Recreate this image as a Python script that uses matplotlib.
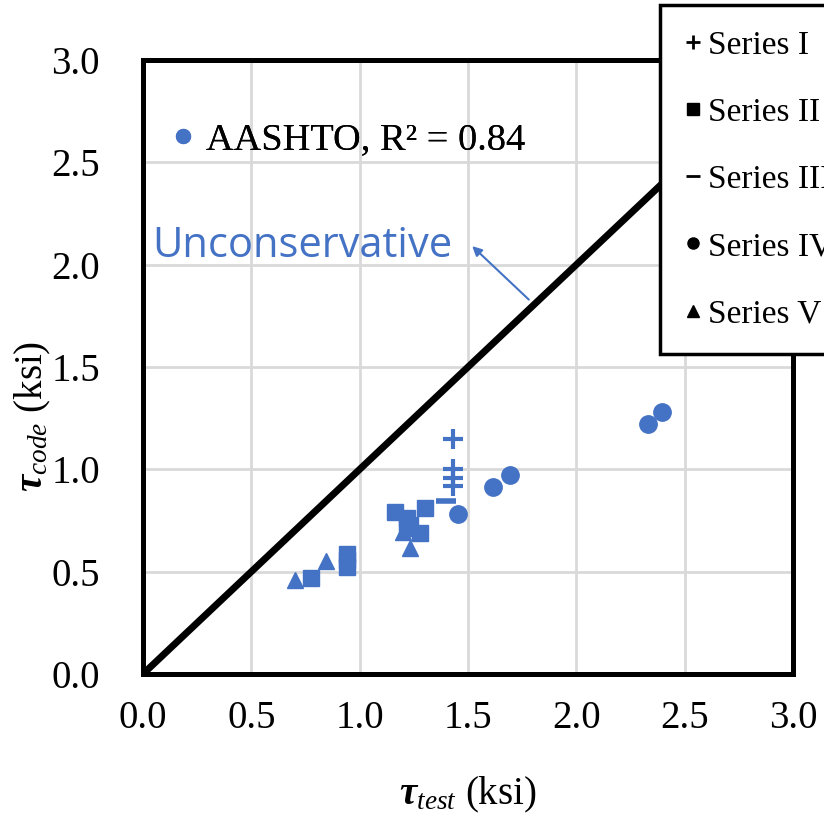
import matplotlib
matplotlib.use("Agg")
import matplotlib.pyplot as plt
from matplotlib.lines import Line2D

plt.rcParams["font.family"] = ["Liberation Serif", "DejaVu Serif"]
plt.rcParams["mathtext.fontset"] = "custom"
plt.rcParams["mathtext.rm"] = "Liberation Serif"
plt.rcParams["mathtext.it"] = "Liberation Serif:italic"
plt.rcParams["mathtext.bf"] = "Liberation Serif:bold"
plt.rcParams["mathtext.bfit"] = "Liberation Serif:bold:italic"

BLUE = "#4472C4"

# data (tau_test, tau_code in ksi)
series1_x = [1.43, 1.43, 1.43, 1.43]
series1_y = [1.15, 1.00, 0.96, 0.92]
series2_x = [0.775, 0.94, 0.94, 0.94, 1.165, 1.30, 1.22, 1.23, 1.28, 1.22]
series2_y = [0.47, 0.585, 0.555, 0.525, 0.79, 0.81, 0.76, 0.73, 0.69, 0.715]
series3_x = [1.40]
series3_y = [0.845]
series4_x = [1.455, 1.615, 1.695, 2.33, 2.395]
series4_y = [0.78, 0.915, 0.97, 1.22, 1.28]
series5_x = [0.70, 0.845, 1.23, 1.20]
series5_y = [0.46, 0.55, 0.615, 0.695]

series_labels = ["Series I", "Series II", "Series III", "Series IV", "Series V"]
series_markers = ["+", "s", "_", "o", "^"]
ticks = [0.0, 0.5, 1.0, 1.5, 2.0, 2.5, 3.0]

fig = plt.figure(figsize=(8.24, 8.15), dpi=100)
ax = fig.add_axes([143 / 824, 1 - 674 / 815, 650 / 824, 614 / 815])

ax.set_xlim(0, 3)
ax.set_ylim(0, 3)
ax.set_xticks(ticks)
ax.set_yticks(ticks)
ax.set_xticklabels([f"{t:.1f}" for t in ticks])
ax.set_yticklabels([f"{t:.1f}" for t in ticks])
ax.tick_params(length=0, labelsize=28)
ax.tick_params(axis="x", pad=19)
ax.tick_params(axis="y", pad=31)
ax.grid(True, color="#D9D9D9", linewidth=2)
ax.set_axisbelow(True)
for sp in ax.spines.values():
    sp.set_linewidth(3.6)
    sp.set_color("black")

# 1:1 line
ax.plot([0, 3], [0, 3], color="black", linewidth=5, zorder=2)

ms = dict(color=BLUE, linestyle="none", zorder=3)
ax.plot(series1_x, series1_y, marker="+", markersize=14, markeredgewidth=3, **ms)
ax.plot(series2_x, series2_y, marker="s", markersize=11.5, **ms)
ax.plot(series3_x, series3_y, marker="_", markersize=15, markeredgewidth=4, **ms)
ax.plot(series4_x, series4_y, marker="o", markersize=12.5, **ms)
ax.plot(series5_x, series5_y, marker="^", markersize=12, **ms)

# annotation
ax.text(0.045, 2.09, "Unconservative", color=BLUE, fontsize=30, family="Open Sans",
        va="center", ha="left")
ax.annotate("", xy=(1.51, 2.10), xytext=(1.79, 1.82),
            arrowprops=dict(arrowstyle="-|>", color=BLUE, lw=1.5, mutation_scale=14))

# AASHTO legend inside axes
h_aashto = Line2D([], [], color=BLUE, marker="o", linestyle="none", markersize=10)
leg1 = ax.legend([h_aashto], ["AASHTO, R² = 0.84"], loc="center left",
                 bbox_to_anchor=(0.015, 2.61 / 3), frameon=False, fontsize=27.6,
                 handlelength=0.6, handletextpad=0.3, borderpad=0)
ax.add_artist(leg1)

# series legend, black markers, partly outside the figure
handles = []
for m in series_markers:
    handles.append(Line2D([], [], color="black", marker=m, linestyle="none",
                          markersize=8 if m not in "+_" else 10,
                          markeredgewidth=2 if m in "+_" else 1))
leg2 = fig.legend(handles, series_labels, loc="upper left",
                  bbox_to_anchor=(660 / 824, 1 - 5 / 815), fontsize=24,
                  frameon=True, fancybox=False, edgecolor="black", framealpha=1,
                  handlelength=0.5, handletextpad=0.2, labelspacing=1.1,
                  borderpad=0.75, borderaxespad=0)
leg2.get_frame().set_linewidth(2.5)
leg2.set_zorder(10)

ax.set_xlabel(r"$\mathbfit{\tau}_{\mathit{test}}$ (ksi)", fontsize=28)
ax.set_ylabel(r"$\mathbfit{\tau}_{\mathit{code}}$ (ksi)", fontsize=28)
ax.xaxis.set_label_coords(0.5, -0.165)
ax.yaxis.set_label_coords(-0.138, 0.42)

fig.savefig("out.png", dpi=100)
